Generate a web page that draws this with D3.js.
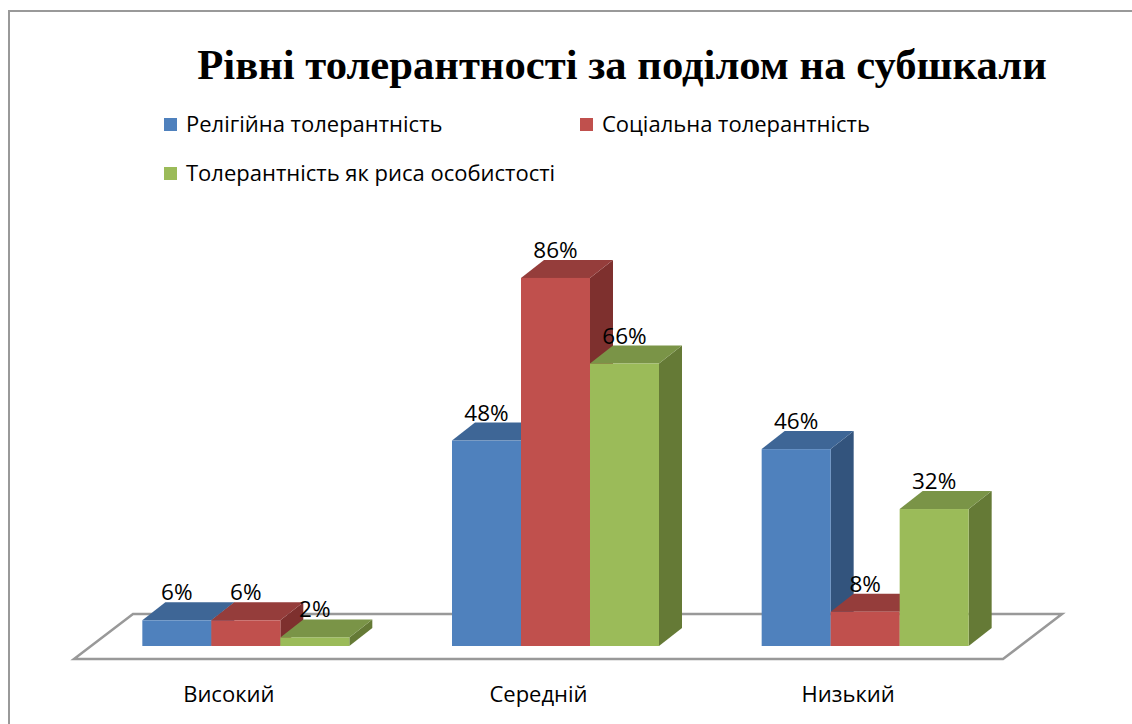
<!DOCTYPE html>
<html>
<head>
<meta charset="utf-8">
<script src="https://cdn.jsdelivr.net/npm/d3@7"></script>
<style>
  html,body{margin:0;padding:0;background:#fff;}
  svg{display:block;}
  .lbl{font-family:"Open Sans",Lato,sans-serif;font-size:22px;fill:#000;}
  .ttl{font-family:"Liberation Serif","Times New Roman",serif;font-weight:bold;font-size:41px;fill:#000;}
</style>
</head>
<body>
<div id="chart"></div>
<script>
/* 3D column chart: levels of tolerance by subscale */
var categories=["Високий","Середній","Низький"];
var seriesNames=["Релігійна толерантність","Соціальна толерантність","Толерантність як риса особистості"];
var religious=[0.06,0.48,0.46];
var social=[0.06,0.86,0.08];
var personal=[0.02,0.66,0.32];
var seriesValues=[religious,social,personal];

var colors=["#4F81BD","#C0504D","#9BBB59"];
var topColors=["#3E6696","#953D3B","#7A9447"];
var sideColors=["#33547D","#7E302E","#657A36"];

var W=1132,H=724;
var svg=d3.select("#chart").append("svg").attr("width",W).attr("height",H);

// outer frame (right/bottom edges run off the picture)
svg.append("path").attr("d","M9,724 L9,11 L1132,11").attr("fill","none").attr("stroke","#999").attr("stroke-width",2);

var title=svg.append("text").attr("class","ttl").attr("x",622).attr("y",79).attr("text-anchor","middle")
  .text("Рівні толерантності за поділом на субшкали");
// fit title to the width it has in the source (~850px)
var tw=title.node().getComputedTextLength();
if(tw>0) title.style("font-size",(41*850/tw)+"px");

// legend
var legendPos=[[164,118],[580,118],[164,167]];
seriesNames.forEach(function(n,i){
  var g=svg.append("g").attr("transform","translate("+legendPos[i][0]+","+legendPos[i][1]+")");
  g.append("rect").attr("width",13).attr("height",13).attr("fill",colors[i]);
  g.append("text").attr("class","lbl").attr("x",22).attr("y",14).text(n);
});

// floor geometry
var floorL=74,floorR=1003,floorFront=659,floorDx=59,floorDy=45;
var depthDx=23,depthDy=18;     // bar depth
var barOffX=17,barBase=646;    // bar front sits 13px behind floor front edge

svg.append("path")
  .attr("d","M"+floorL+","+floorFront+" L"+floorR+","+floorFront+" L"+(floorR+floorDx)+","+(floorFront-floorDy)+" L"+(floorL+floorDx)+","+(floorFront-floorDy)+" Z")
  .attr("fill","#fff").attr("stroke","#999").attr("stroke-width",2.5).attr("stroke-linejoin","miter");

var x=d3.scaleBand().domain(categories).range([floorL,floorR]);
var groupW=207;
var xs=d3.scaleBand().domain(d3.range(seriesNames.length)).range([0,groupW]);
var y=d3.scaleLinear().domain([0,1]).range([barBase,barBase-428]);

categories.forEach(function(c,ci){
  var gx=x(c)+x.bandwidth()/2+barOffX-groupW/2;
  seriesValues.forEach(function(vals,si){
    var v=vals[ci];
    var x0=gx+xs(si),x1=x0+xs.bandwidth(),yt=y(v),yb=y(0);
    var g=svg.append("g");
    // side face
    g.append("path").attr("d","M"+x1+","+yb+" L"+(x1+depthDx)+","+(yb-depthDy)+" L"+(x1+depthDx)+","+(yt-depthDy)+" L"+x1+","+yt+" Z")
      .attr("fill",sideColors[si]);
    // top face
    g.append("path").attr("d","M"+x0+","+yt+" L"+x1+","+yt+" L"+(x1+depthDx)+","+(yt-depthDy)+" L"+(x0+depthDx)+","+(yt-depthDy)+" Z")
      .attr("fill",topColors[si]);
    // front
    g.append("rect").attr("x",x0).attr("y",yt).attr("width",x1-x0).attr("height",yb-yt).attr("fill",colors[si]);
  });
});

// value labels on top of everything
categories.forEach(function(c,ci){
  var gx=x(c)+x.bandwidth()/2+barOffX-groupW/2;
  seriesValues.forEach(function(vals,si){
    var v=vals[ci];
    svg.append("text").attr("class","lbl").attr("text-anchor","middle").style("font-size","22.5px")
      .attr("x",gx+xs(si)+xs.bandwidth()/2).attr("y",y(v)-depthDy-2)
      .text(d3.format(".0%")(v));
  });
  svg.append("text").attr("class","lbl").attr("text-anchor","middle")
    .attr("x",x(c)+x.bandwidth()/2).attr("y",702).text(c);
});
</script>
</body>
</html>
